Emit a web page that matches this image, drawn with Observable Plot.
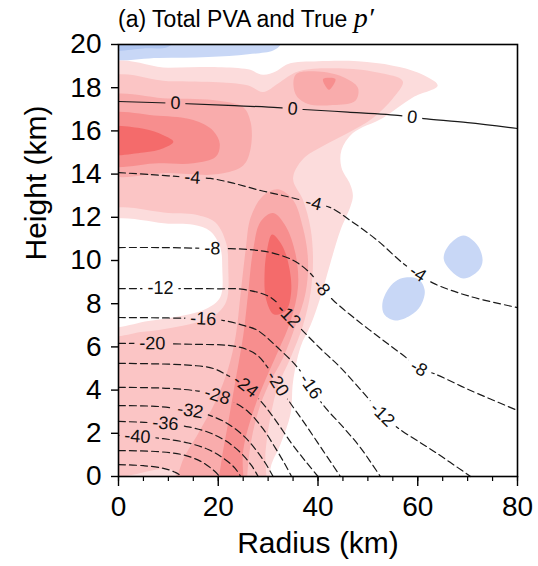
<!DOCTYPE html>
<html>
<head>
<meta charset="utf-8">
<script src="https://cdn.jsdelivr.net/npm/d3@7"></script>
<script src="https://cdn.jsdelivr.net/npm/@observablehq/plot@0.6"></script>
<style>
  html, body { margin: 0; padding: 0; background: #fff; }
  #wrap { position: relative; width: 538px; height: 566px; font-family: "Liberation Sans", Arial, sans-serif; }
  #chart { position: absolute; left: 0; top: 0; }
  #title { position: absolute; left: 118px; top: 2px; font-size: 23px; color: #000; white-space: nowrap; z-index: 2; }
  #title .math { font-family: "Liberation Serif", "DejaVu Serif", serif; font-style: italic; font-size: 28px; }
</style>
</head>
<body>
<div id="wrap">
  <div id="chart"></div>
  <div id="title">(a) Total PVA and True <span class="math">p′</span></div>
</div>
<script>
// ---------------- DATA (radius km, height km) ----------------
// Filled PVA regions
const blueTop      = [[-3,20.6],[33,20.6],[32.5,20],[31,19.72],[26,19.55],[18,19.42],[8,19.38],[-3,19.42]];
const blueTopDeep  = [[-3,20.6],[13,20.6],[10,19.9],[5,19.82],[-3,19.8]];
const blueBlob1    = [[69.2,11.16],[72.0,10.7],[73.0,10.0],[72.2,9.54],[69.2,9.17],[66.6,9.54],[65.2,10.09],[66.2,10.7]];
const blueBlob2    = [[57.5,9.21],[60.2,9.12],[61.4,8.61],[60.6,7.92],[58.5,7.45],[55.5,7.22],[53.3,7.5],[52.9,8.0],[53.9,8.61],[55.5,9.03]];

const pvaA   = [[-3,18.95],[10,18.92],[20,18.95],[26,18.85],[29,18.6],[31.5,18.75],[34,19.1],[40,19.22],[48,19.22],[55,19.02],[60,18.7],[64,18.1],[59,17.55],[53,16.6],[47,15.9],[44.7,15.1],[44.7,14.3],[46.5,13.5],[47,13.0],[46.5,12.5],[44.5,11.4],[42.5,9.9],[40.5,8.3],[38.5,7.0],[36.5,6.0],[35,4.4],[34.5,2.9],[32.5,1.5],[30.5,0.4],[30,-2],[-3,-2]];
const pvaB   = [[-3,18.3],[10,18.3],[20,18.25],[26,18.1],[29,17.8],[32,18.2],[36,18.75],[44,18.9],[52,18.7],[57,18.3],[55,17.5],[51,16.6],[46,15.9],[41,15.3],[37,14.7],[35,13.8],[37,12.8],[38.5,11.5],[39,10],[38.5,8.5],[37,7.0],[34.5,5.5],[32,4.2],[30.5,2.8],[29.5,1.2],[28.5,-2],[12,-2],[11,0.25],[-3,0.25]];
const holeA  = [[-3,12.2],[10,12.2],[16,12.1],[19.5,11.75],[21.6,10.8],[22,9.7],[21.6,8.1],[19,7.4],[16,7.15],[11,6.9],[5,6.7],[-3,6.65]];
const hole0  = [[-3,11.7],[10,11.7],[15,11.65],[18.4,11.35],[20.4,10.6],[20.8,9.7],[20.4,8.3],[17.5,7.75],[13,7.45],[6,7.2],[-3,7.05]];
const pvaCup = [[-3,17.5],[10,17.5],[20,17.4],[25,17.1],[26.5,16.4],[26.5,15.2],[25,14.4],[20,14.0],[10,14.05],[-3,14.1]];
const pvaCtg = [[35.5,18.6],[40,18.75],[45,18.5],[48,18.0],[47.5,17.4],[43,17.2],[38,17.25],[35.5,17.7]];
const pvaClo = [[11,-2],[12.5,0.5],[16,2],[19.5,3.5],[22,5],[23.5,6.5],[24.5,8.5],[25.5,10.5],[26.5,12],[29,13],[32,13.3],[35,12.8],[37,11.5],[38,10],[37.5,8.5],[35.5,7],[33,5.5],[30,4.2],[28,3],[26.5,1.5],[25.8,0],[25.5,-2]];
const pvaDup = [[-3,16.7],[8,16.7],[15,16.5],[19,16],[20.3,15.4],[19.5,14.8],[15,14.5],[8,14.5],[-3,14.5]];
const pvaDtg = [[41,18.4],[43.5,18.4],[42.2,17.9]];
const pvaDlo = [[19.5,-2],[20.5,0.5],[22,2.5],[23.5,4.5],[25,6.5],[26,8.5],[27,10.5],[28.5,11.8],[31,12.2],[33.5,11.6],[35.5,10.3],[36,8.8],[34.5,7.2],[32,5.8],[29.5,4.5],[27,3.0],[25,1.2],[24.5,-2]];
const pvaEup = [[-3,16.1],[5,16.1],[9,15.8],[11,15.5],[9,15.2],[5,15.0],[-3,15.0]];
const pvaElo = [[30.8,11.2],[32.8,10.7],[34.3,9.6],[34.6,8.5],[33.6,7.7],[31.2,7.5],[29.6,8.2],[29.3,9.5],[29.8,10.5]];

// Pressure perturbation contours (points per level)
const c0   = [[0,17.36],[11.4,17.28],[22,17.18],[31.9,17.08],[34.9,17.02],[37.1,16.99],[46,16.87],[56.5,16.71],[58.9,16.64],[61.2,16.57],[70,16.38],[80,16.11]];
const cm4  = [[0,14.07],[6.4,13.98],[14.8,13.84],[18.4,13.80],[23,13.58],[28.5,13.24],[34,12.95],[39.1,12.65],[42.5,12.45],[46.5,11.85],[51.9,10.93],[57.1,9.86],[60,9.40],[63.2,8.94],[70.6,8.33],[80,7.82]];
const cm8  = [[0,10.60],[8.4,10.60],[18.8,10.56],[22.5,10.55],[26.5,10.5],[30.5,10.37],[35.1,10.0],[38.5,9.40],[40.7,8.75],[43.1,8.15],[47.9,7.22],[53.1,6.30],[57.9,5.46],[60.2,5.0],[63.2,4.77],[70.6,3.98],[80,3.06]];
const cm12 = [[0,8.70],[8.4,8.70],[12.8,8.70],[20,8.69],[25.1,8.66],[30.5,8.29],[34.1,7.45],[37.1,6.71],[40.8,5.85],[44.5,5.05],[49.9,3.66],[52.9,2.87],[55.9,2.27],[63.6,1.11],[70.6,0]];
const cm16 = [[0,7.36],[10,7.34],[17,7.30],[21.1,7.22],[25,7.0],[27.9,6.76],[31.9,5.97],[35.9,5.05],[38.5,4.17],[41.1,3.29],[45.1,2.27],[48.5,1.34],[52.5,0]];
const cm20 = [[0,6.16],[6.8,6.16],[15,6.12],[22,6.07],[25.5,5.9],[27.9,5.6],[29.9,5.05],[31.9,4.3],[34,3.55],[37.5,2.4],[41,1.2],[44.5,0]];
const cm24 = [[0,5.24],[10,5.2],[15,5.14],[19,5.0],[21.9,4.68],[25.5,4.2],[28.5,3.5],[31.5,2.6],[34.8,1.5],[37.7,0.65],[40,0]];
const cm28 = [[0,4.13],[10,4.08],[16,3.95],[19.8,3.75],[23,3.45],[26,3.0],[29,2.2],[31.5,1.3],[33.3,0.6],[34.7,0]];
const cm32 = [[0,3.28],[8,3.24],[14.4,3.05],[18,2.85],[21.5,2.5],[25,1.9],[27.5,1.25],[29.5,0.6],[31,0]];
const cm36 = [[0,2.55],[9.4,2.45],[14,2.3],[18,2.05],[21.5,1.65],[24.5,1.1],[26.7,0.5],[28,0]];
const cm40 = [[0,1.9],[3.8,1.85],[9,1.75],[14,1.55],[18,1.25],[21,0.85],[23.3,0.4],[24.5,0]];
const cm44 = [[0,1.2],[8,1.15],[13,1.0],[16.5,0.7],[19,0.3],[20.3,0]];
const cm48 = [[0,0.55],[5,0.5],[9,0.38],[11.5,0.18],[12.8,0]];
const contourLevels = [0,-4,-8,-12,-16,-20,-24,-28,-32,-36,-40,-44,-48];
const contourPoints = [c0,cm4,cm8,cm12,cm16,cm20,cm24,cm28,cm32,cm36,cm40,cm44,cm48];

// Contour labels: [level, radius, height]
const contourLabels = [
  [0,11.4,17.28],[0,34.9,17.02],[0,58.9,16.64],
  [-4,14.8,13.84],[-4,39.1,12.65],[-4,60,9.40],
  [-8,18.8,10.56],[-8,40.7,8.75],[-8,60.2,5.0],
  [-12,8.4,8.70],[-12,34.1,7.45],[-12,52.9,2.87],
  [-16,17,7.30],[-16,38.5,4.17],
  [-20,6.8,6.16],[-20,31.9,4.3],
  [-24,25.5,4.2],[-28,19.8,3.75],[-32,14.4,3.05],[-36,9.4,2.45],[-40,3.8,1.85]
];

const xTicks = [0,20,40,60,80];
const xMinor = [0,5,10,15,20,25,30,35,40,45,50,55,60,65,70,75,80];
const yTicks = [0,2,4,6,8,10,12,14,16,18,20];

// ---------------- LAYOUT ----------------
const W = 538, H = 566, ML = 118, MR = 21, MT = 44, MB = 90;
const kx = (W - ML - MR) / 80, ky = (H - MT - MB) / 20;
const LABEL_FS = 18;
const LINE_COLOR = "#1a1a1a";

function rows(id, pts) { return pts.map(([r, z]) => ({id, r, z})); }
function fillMark(polys, color) {
  const data = polys.flatMap((p, i) => rows(i, p));
  return Plot.line(data, {x: "r", y: "z", z: "id", fill: color, stroke: "none", curve: "catmull-rom-closed", clip: true});
}

const lineRows = contourLevels.flatMap((lev, i) => contourPoints[i].map(([r, z]) => ({lev, r, z})));

function angleAt(pts, r, z) {
  let best = 0, bd = Infinity;
  pts.forEach((p, i) => {
    const d = ((p[0] - r) * kx) ** 2 + ((p[1] - z) * ky) ** 2;
    if (d < bd) { bd = d; best = i; }
  });
  const a = pts[Math.max(0, best - 1)], b = pts[Math.min(pts.length - 1, best + 1)];
  let ang = Math.atan2(-(b[1] - a[1]) * ky, (b[0] - a[0]) * kx) * 180 / Math.PI;
  if (ang > 90) ang -= 180;
  if (ang < -90) ang += 180;
  return ang;
}
function textWidth(s, fs) {
  let w = 0;
  for (const ch of s) w += (ch === "-" ? 0.333 : 0.556);
  return w * fs;
}
const labelRows = contourLabels.map(([lev, r, z]) => {
  const pts = contourPoints[contourLevels.indexOf(lev)];
  return {lev, r, z, txt: String(lev), angle: angleAt(pts, r, z)};
});

const chart = Plot.plot({
  width: W, height: H,
  marginLeft: ML, marginRight: MR, marginTop: MT, marginBottom: MB,
  x: {domain: [0, 80], label: null},
  y: {domain: [0, 20], label: null},
  style: {fontFamily: "'Liberation Sans', Arial, sans-serif", background: "transparent", overflow: "visible"},
  marks: [
    fillMark([blueTop, blueBlob1, blueBlob2], "#c8d7f6"),
    fillMark([blueTopDeep], "#b0c6f1"),
    fillMark([pvaA], "#fcdcdc"),
    fillMark([pvaB], "#fbc5c5"),
    fillMark([holeA], "#fcdcdc"),
    fillMark([hole0], "#ffffff"),
    fillMark([pvaCup, pvaCtg, pvaClo], "#f9acac"),
    fillMark([pvaDup, pvaDtg, pvaDlo], "#f78e8e"),
    fillMark([pvaEup, pvaElo], "#f46b6b"),
    Plot.line(lineRows.filter(d => d.lev === 0), {x: "r", y: "z", z: "lev", stroke: LINE_COLOR, strokeWidth: 1.2, curve: "catmull-rom"}),
    Plot.line(lineRows.filter(d => d.lev < 0), {x: "r", y: "z", z: "lev", stroke: LINE_COLOR, strokeWidth: 1.2, strokeDasharray: "7,4", curve: "catmull-rom"}),
    Plot.text(labelRows, {x: "r", y: "z", text: "txt", rotate: "angle", fontSize: LABEL_FS, fill: "#111"}),
    Plot.frame({stroke: "#000", strokeWidth: 1.6}),
    Plot.axisY({ticks: yTicks, tickSize: 7, tickPadding: 10, fontSize: 28, tickFormat: d => String(d), label: null, strokeWidth: 1.4}),
    Plot.axisX({ticks: xTicks, tickSize: 10, tickPadding: 10, fontSize: 28, tickFormat: d => String(d), label: null, strokeWidth: 1.4}),
    Plot.axisX({ticks: xMinor, tickSize: 5, tickFormat: () => "", label: null, strokeWidth: 1.2}),
    Plot.text(["Radius (km)"], {text: d => d, frameAnchor: "bottom", dy: 76, fontSize: 30}),
    Plot.text(["Height (km)"], {text: d => d, frameAnchor: "left", dx: -82, rotate: -90, fontSize: 30})
  ]
});
document.getElementById("chart").appendChild(chart);

// Gaps in contour lines where labels sit (positions through the plot's scales)
const sx = chart.scale("x"), sy = chart.scale("y");
const fx = sx.apply ? v => sx.apply(v) : d3.scaleLinear(sx.domain, sx.range);
const fy = sy.apply ? v => sy.apply(v) : d3.scaleLinear(sy.domain, sy.range);
const svg = d3.select(chart);
const defs = svg.insert("defs", ":first-child");
const mask = defs.append("mask").attr("id", "labelgaps").attr("maskUnits", "userSpaceOnUse")
  .attr("x", 0).attr("y", 0).attr("width", W).attr("height", H);
mask.append("rect").attr("x", 0).attr("y", 0).attr("width", W).attr("height", H).attr("fill", "white");
labelRows.forEach(l => {
  const w = textWidth(l.txt, LABEL_FS) + 10, h = LABEL_FS * 0.9;
  mask.append("rect").attr("x", -w / 2).attr("y", -h / 2).attr("width", w).attr("height", h)
    .attr("transform", `translate(${fx(l.r)},${fy(l.z)}) rotate(${l.angle})`).attr("fill", "black");
});
svg.selectAll("g").filter(function () { return this.getAttribute("stroke") === LINE_COLOR; })
  .attr("mask", "url(#labelgaps)");
</script>
</body>
</html>
